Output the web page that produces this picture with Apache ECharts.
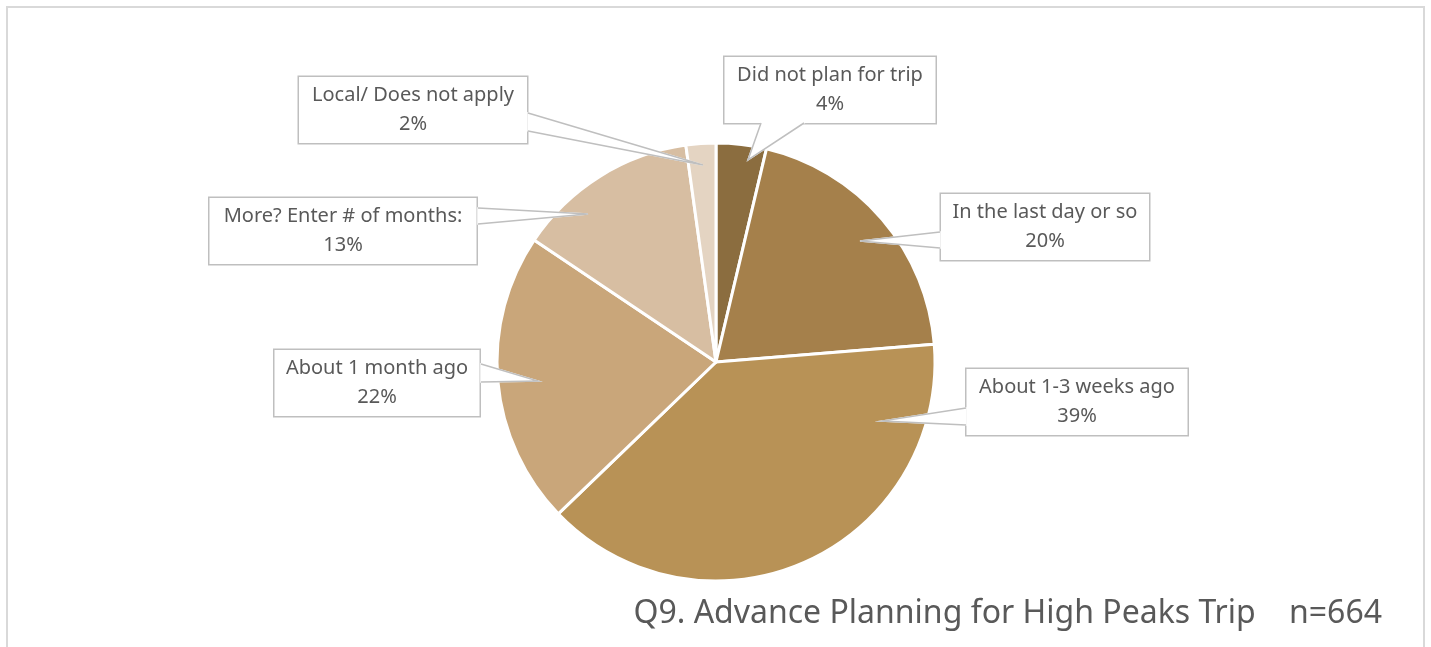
<!DOCTYPE html>
<html>
<head>
<meta charset="utf-8">
<script src="https://cdn.jsdelivr.net/npm/echarts@6/dist/echarts.min.js"></script>
<style>
  html, body { margin: 0; padding: 0; background: #fff; }
  #chart { width: 1431px; height: 647px; }
</style>
</head>
<body>
<div id="chart"></div>
<script>
// data (share of respondents, %), clockwise from 12 o'clock
const categories = ['Did not plan for trip', 'In the last day or so', 'About 1-3 weeks ago',
  'About 1 month ago', 'More? Enter # of months:', 'Local/ Does not apply'];
const shares = [3.7, 20.0, 39.1, 21.6, 13.4, 2.2];
const colors = ['#8B6D3F', '#A5804B', '#B89256', '#C9A67A', '#D7BEA2', '#E4D4C2'];

// layout: callout box centres and widths
const labelPos = [[830, 90], [1045, 227], [1077, 402], [377, 383], [343, 231], [413, 110]];
const boxWidths = [213, 210, 223, 207, 269, 230];
// callout pointers: [base start, tip, base end]
const pointers = [
  [[761, 123], [748, 160], [804, 123]],
  [[940, 232], [860, 241], [940, 248]],
  [[966, 408], [882, 421], [966, 425]],
  [[481, 364], [538, 381], [481, 382]],
  [[478, 208], [588, 214], [478, 224]],
  [[528, 113], [703, 165], [528, 131]]
];

const chart = echarts.init(document.getElementById('chart'));

const pointerGraphics = [];
pointers.forEach(pts => {
  // white fill covers the box border under the pointer base
  pointerGraphics.push({
    type: 'polygon', z: 100, silent: true,
    shape: { points: pts },
    style: { fill: '#fff', stroke: '#fff', lineWidth: 1.5 }
  });
  pointerGraphics.push({
    type: 'polyline', z: 101, silent: true,
    shape: { points: pts },
    style: { stroke: '#BFBFBF', lineWidth: 1.5, fill: null }
  });
});

const option = {
  backgroundColor: '#fff',
  animation: false,
  title: {
    text: 'Q9. Advance Planning for High Peaks Trip    n=664',
    right: 44,
    top: 593,
    textStyle: { fontFamily: 'Noto Sans', fontSize: 32, fontWeight: 'normal', color: '#595959' }
  },
  graphic: [{
    type: 'rect',
    shape: { x: 7, y: 7, width: 1417, height: 660 },
    style: { fill: 'none', stroke: '#D9D9D9', lineWidth: 2 },
    silent: true
  }].concat(pointerGraphics),
  series: [{
    type: 'pie',
    center: [716, 362],
    radius: 219,
    startAngle: 90,
    clockwise: true,
    data: categories.map((c, i) => ({
      name: c,
      value: shares[i],
      itemStyle: { color: colors[i] },
      label: { width: boxWidths[i] - 22 }
    })),
    itemStyle: { borderColor: '#fff', borderWidth: 3 },
    label: {
      show: true,
      formatter: p => p.name + '\n' + Math.round(p.percent) + '%',
      fontFamily: 'Noto Sans',
      fontSize: 20,
      lineHeight: 29,
      color: '#595959',
      backgroundColor: '#fff',
      borderColor: '#BFBFBF',
      borderWidth: 1.5,
      padding: [4, 10, 4, 10],
      align: 'center',
      overflow: 'none'
    },
    labelLine: { show: false },
    labelLayout: function (params) {
      const p = labelPos[params.dataIndex];
      return { x: p[0], y: p[1], align: 'center', verticalAlign: 'middle' };
    },
    emphasis: { disabled: true }
  }]
};

chart.setOption(option);
</script>
</body>
</html>
